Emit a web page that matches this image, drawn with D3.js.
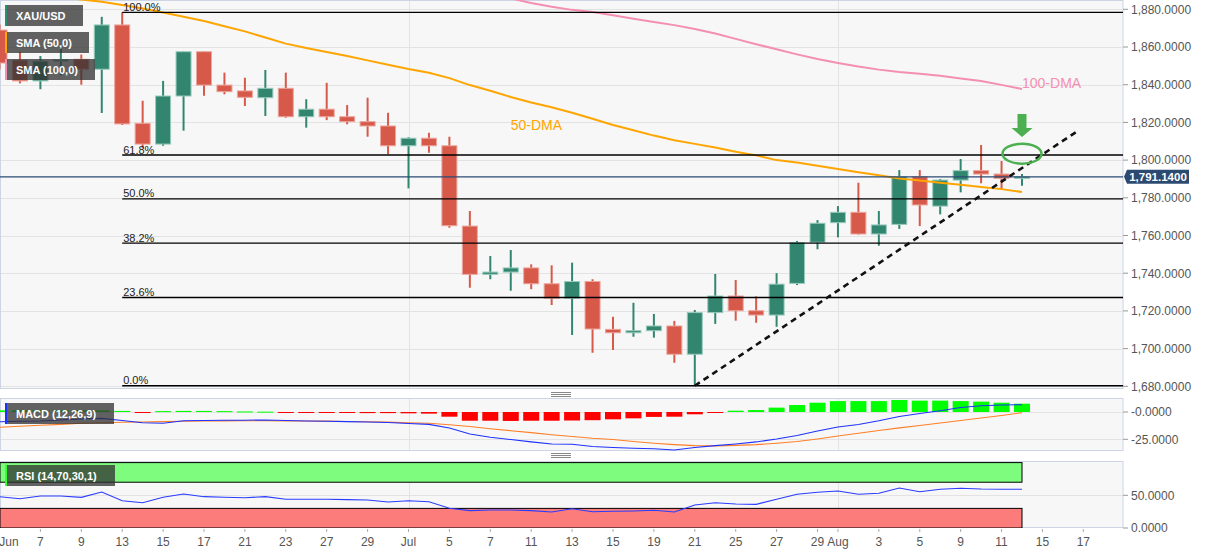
<!DOCTYPE html>
<html><head><meta charset="utf-8">
<script src="https://cdn.jsdelivr.net/npm/d3@7"></script>
<style>
body{margin:0;background:#fff;}
svg{display:block;font-family:Arial,"Liberation Sans",sans-serif;}
</style></head>
<body><svg id="c" width="1207" height="555"></svg>
<script>
// ---------- DATA ----------
const axisDates = [
 "2022-06-01","2022-06-02","2022-06-03",
 "2022-06-06","2022-06-07","2022-06-08","2022-06-09","2022-06-10",
 "2022-06-13","2022-06-14","2022-06-15","2022-06-16","2022-06-17",
 "2022-06-20","2022-06-21","2022-06-22","2022-06-23","2022-06-24",
 "2022-06-27","2022-06-28","2022-06-29","2022-06-30","2022-07-01",
 "2022-07-04","2022-07-05","2022-07-06","2022-07-07","2022-07-08",
 "2022-07-11","2022-07-12","2022-07-13","2022-07-14","2022-07-15",
 "2022-07-18","2022-07-19","2022-07-20","2022-07-21","2022-07-22",
 "2022-07-25","2022-07-26","2022-07-27","2022-07-28","2022-07-29",
 "2022-08-01","2022-08-02","2022-08-03","2022-08-04","2022-08-05",
 "2022-08-08","2022-08-09","2022-08-10","2022-08-11","2022-08-12",
 "2022-08-15","2022-08-16","2022-08-17"];
const candleDates = axisDates.slice(2, 53); // Jun 3 .. Aug 12

const open  = [1869,1853,1842,1852.5,1853.5,1848.2,1871.7,1819.5,1808.5,1834,1857.5,1839.8,1836.7,1833.1,1838.1,1823,1827,1823,1820.4,1818.1,1807.6,1811.6,1807.6,1765,1739.4,1740.6,1742.8,1734.4,1726.7,1735.6,1710.2,1708.4,1709.5,1712,1697,1719.1,1727.9,1720.1,1717.8,1734.6,1756.4,1766.8,1772.3,1760.8,1765.9,1791.2,1775.6,1789.4,1794.4,1792.6,1790.3];
const high  = [1872,1857.5,1855.2,1859.3,1856,1876,1878.4,1831.5,1842,1857.7,1857.7,1846.4,1843.7,1847.8,1846.4,1832.3,1841,1829.2,1833.1,1825.1,1812.1,1814.5,1812.4,1773,1749.1,1752.3,1744.7,1744.2,1745.6,1736.8,1716.9,1724.3,1718.4,1714.7,1720.5,1739.6,1736.4,1727.7,1740,1757.1,1768.2,1775.6,1788,1773,1794.7,1794.7,1790,1800.6,1808,1799.5,1792.6];
const low   = [1848,1840.7,1837.6,1845,1840,1825,1818.6,1806.3,1807.6,1815.6,1834.2,1834.9,1828.7,1823.4,1822.5,1817.2,1821.2,1819,1812.4,1803.2,1785,1803.9,1764.1,1732.3,1736.8,1730.7,1731.5,1723.1,1707.2,1697.8,1699.3,1706.3,1705.8,1692.5,1680.3,1713.1,1714.8,1713.7,1711.6,1733.7,1752.7,1759,1760.5,1754.6,1763.5,1765,1771.2,1782.9,1787.7,1784.5,1786.4];
const close = [1851.5,1842,1852.5,1853.3,1848.2,1871.7,1819.2,1808.5,1834,1857.5,1839.8,1836.3,1833.3,1838.1,1823,1827,1823,1820.4,1818.1,1807.6,1811.6,1807.6,1765.2,1739.4,1740.6,1742.8,1734.4,1726.7,1735.6,1710.4,1708.4,1709.5,1712,1697,1719.1,1727.9,1720.1,1717.8,1734.2,1756.2,1766.5,1772.3,1760.8,1765.6,1791.2,1776.2,1789.4,1794.4,1792.6,1790.3,1791.14];

const sma50  = [1890,1889,1887.5,1886.3,1885.2,1884,1882.3,1880.4,1878.3,1876,1873.8,1871,1868.3,1865,1861.8,1859.5,1857.3,1855.2,1852.9,1850.6,1848.3,1846.3,1843.5,1839.8,1836.8,1833.5,1830.6,1828,1825.1,1821.9,1818.6,1815.8,1813,1810.5,1808.6,1806.7,1804.4,1802.5,1800,1798.7,1797,1795.3,1793.6,1792,1790.3,1789.2,1788,1786.9,1785.7,1784.6,1783.1];
const sma100 = [null,null,null,null,null,null,null,null,null,null,null,null,null,null,null,null,null,null,null,null,null,null,null,1890,1887.5,1885.8,1883.3,1881.3,1879.7,1878.6,1876.8,1875,1873.3,1871.6,1869.5,1867.2,1864.3,1861.5,1858.8,1856.1,1853.6,1851.5,1849.6,1848,1846.7,1845.8,1844.7,1843.3,1842,1839.9,1837.7];

const macdLine = [-8.9,-8.5,-8.2,-7.3,-6.4,-5.8,-7.8,-9.8,-10.3,-8,-7.8,-7.6,-7.5,-7.3,-7.8,-8.2,-8.5,-8.8,-9.1,-9.6,-10.5,-11.3,-14.6,-20.1,-23.1,-25.2,-27.4,-29.3,-29.6,-31.6,-32.5,-33.2,-33.7,-34.8,-32.5,-30.8,-29.3,-27.4,-24.7,-21.5,-17.4,-13.7,-11.4,-8,-4.1,-1.4,1.2,4.1,5.7,6.4,6.7];
const signalLine = [-14,-13.1,-12.2,-11.3,-10.3,-9.9,-9.4,-9.1,-8.8,-8.5,-8.2,-8.1,-8,-8,-8.1,-8.2,-8.4,-8.7,-8.9,-9.3,-9.8,-10.3,-11.7,-13.3,-15.3,-17.1,-18.9,-20.8,-22.4,-24.1,-25.2,-27,-28.6,-29.9,-30.8,-31,-30.6,-29.9,-28.6,-27,-24.7,-22,-19.5,-16.9,-14.5,-12.4,-10.1,-7.8,-5.5,-3.2,-0.6];
const macdHist = [1.5,1.5,1.5,1.5,1.5,1.5,1,-0.8,0.8,1,1,0.8,0.5,0.3,-0.2,-0.4,-0.8,-0.9,-1,-1,-1.2,-1.5,-4.3,-8,-8,-8.2,-8,-8,-7.8,-7.5,-6.7,-5.8,-4.5,-4.3,-2.1,-0.3,1.2,1.8,4,6.4,8.5,10,10,10,11,10.4,10.4,10,9.5,8.5,7.6];

const rsi = [47.9,44.8,48.9,48.9,46.9,55,41.7,38.7,46.9,52,47.9,47.1,46.3,47.9,43.9,43.9,43.9,43.4,42.8,39.8,41.7,40.2,30.1,26.5,27.5,27.5,26.5,24.5,29.5,24.9,25.5,26,27.1,24.5,35.2,38.7,36.7,36.2,43.9,51.5,54.6,56.6,51.5,53.1,61.2,55.5,59.2,60.7,59.6,59.2,59.2];

const fibLevels = ["100.0%","61.8%","50.0%","38.2%","23.6%","0.0%"];
const fibValues = [1878.4,1802.7,1779.4,1756.0,1727.1,1680.3];
const fibStartDate = "2022-06-13";

const lastPrice = 1791.14;
const priceTicks = [1680,1700,1720,1740,1760,1780,1800,1820,1840,1860,1880];
const macdTicks = [0,-25], macdTickLabels = ["-0.0000","-25.0000"];
const rsiTicks = [50,0], rsiTickLabels = ["50.0000","0.0000"];
const xTickDates  = ["2022-06-01","2022-06-07","2022-06-09","2022-06-13","2022-06-15","2022-06-17","2022-06-21","2022-06-23","2022-06-27","2022-06-29","2022-07-01","2022-07-05","2022-07-07","2022-07-11","2022-07-13","2022-07-15","2022-07-19","2022-07-21","2022-07-25","2022-07-27","2022-07-29","2022-08-01","2022-08-03","2022-08-05","2022-08-09","2022-08-11","2022-08-15","2022-08-17"];
const xTickLabels = ["Jun","7","9","13","15","17","21","23","27","29","Jul","5","7","11","13","15","19","21","25","27","29","Aug","3","5","9","11","15","17"];
const monthDates = ["2022-07-01","2022-08-01"];
// trend line: [date, fraction of a day step, value]
const trendPts = [["2022-07-21",0,1680.3],["2022-08-16",0.8,1816]];
const circleMark = ["2022-08-12",1803.4];
const arrowMark = ["2022-08-12",1812.3,1824.5];
const maLabels = [["50-DMA","2022-07-08",1816.2,"#ffa500"],["100-DMA","2022-08-12",1838.5,"#f48fb1"]];

// ---------- LAYOUT ----------
const svg = d3.select("#c");
const R = 1123;
const P = {main:[0,389], macd:[398,451], rsi:[461,528]};
const x = d3.scalePoint().domain(axisDates).range([-41.4, 1083.35]);
const step = x.step();
const yP = d3.scaleLinear().domain([1680,1880]).range([386.3,9.3]);
const yM = d3.scaleLinear().domain([-25,0]).range([439.3,412]);
const yR = d3.scaleLinear().domain([0,100]).range([528,462.6]);
const fmt = d3.format(",.4f");

const defs = svg.append("defs");
function clip(id, p){ defs.append("clipPath").attr("id",id).append("rect").attr("x",0).attr("y",p[0]).attr("width",R).attr("height",p[1]-p[0]); }
clip("cm",P.main); clip("cd",P.macd); clip("cr",P.rsi);

// panel backgrounds
Object.values(P).forEach(p=>{
  svg.append("rect").attr("x",0.5).attr("y",p[0]+0.5).attr("width",R-0.5).attr("height",p[1]-p[0]-1)
    .attr("fill","#f7f7f7").attr("stroke","#cdd4e4").attr("stroke-width",1);
});

// grids
const grid = svg.append("g").attr("stroke","#e3e3e3").attr("stroke-width",1);
priceTicks.forEach(v=>grid.append("line").attr("x1",1).attr("x2",R).attr("y1",Math.round(yP(v))+0.5).attr("y2",Math.round(yP(v))+0.5));
macdTicks.forEach(v=>grid.append("line").attr("x1",1).attr("x2",R).attr("y1",Math.round(yM(v))+0.5).attr("y2",Math.round(yM(v))+0.5));
grid.append("line").attr("x1",1).attr("x2",R).attr("y1",Math.round(yR(50))+0.5).attr("y2",Math.round(yR(50))+0.5);
monthDates.forEach(d=>{
  Object.values(P).forEach(p=>grid.append("line").attr("x1",Math.round(x(d))+0.5).attr("x2",Math.round(x(d))+0.5).attr("y1",p[0]+1).attr("y2",p[1]-1));
});

// ---------- MAIN PANEL ----------
const gm = svg.append("g").attr("clip-path","url(#cm)");
const candles = candleDates.map((d,i)=>({d,o:open[i],h:high[i],l:low[i],c:close[i]}));
const RED="#d6594a", REDB="#eca59c", GRN="#328670", GRNB="#99cbbd";
const cg = gm.append("g");
candles.forEach(k=>{
  const up = k.c>=k.o, col = up?GRN:RED, bcol = up?GRNB:REDB;
  const cx = x(k.d);
  cg.append("line").attr("x1",cx).attr("x2",cx).attr("y1",yP(k.h)).attr("y2",yP(k.l)).attr("stroke",col).attr("stroke-width",2);
  const y1 = yP(Math.max(k.o,k.c)), y2 = yP(Math.min(k.o,k.c));
  cg.append("rect").attr("x",cx-7.5).attr("width",15).attr("y",y1).attr("height",Math.max(1.5,y2-y1))
    .attr("fill",col).attr("stroke",bcol).attr("stroke-width",1);
});

// moving averages
const lineGen = arr => d3.line().defined((v)=>v!=null).x((v,i)=>x(candleDates[i])).y(v=>yP(v))(arr);
gm.append("path").attr("d",lineGen(sma50)).attr("fill","none").attr("stroke","#ffa500").attr("stroke-width",2);
gm.append("path").attr("d",lineGen(sma100)).attr("fill","none").attr("stroke","#f48fb1").attr("stroke-width",2);

// fib lines
fibValues.forEach((v,i)=>{
  const yy = yP(v);
  gm.append("line").attr("x1",x(fibStartDate)).attr("x2",R).attr("y1",yy).attr("y2",yy).attr("stroke","#000").attr("stroke-width",1.3);
  gm.append("text").attr("x",x(fibStartDate)+1).attr("y",yy-1.5).attr("font-size",11).attr("fill","#222").text(fibLevels[i]);
});

// last price line
gm.append("line").attr("x1",0).attr("x2",R).attr("y1",yP(lastPrice)).attr("y2",yP(lastPrice)).attr("stroke","#2b4a72").attr("stroke-width",1.2);

// trend line
gm.append("line")
  .attr("x1",x(trendPts[0][0])+trendPts[0][1]*step).attr("y1",yP(trendPts[0][2]))
  .attr("x2",x(trendPts[1][0])+trendPts[1][1]*step).attr("y2",yP(trendPts[1][2]))
  .attr("stroke","#111").attr("stroke-width",2.6).attr("stroke-dasharray","6,4.5");

// ellipse & arrow
gm.append("ellipse").attr("cx",x(circleMark[0])).attr("cy",yP(circleMark[1])).attr("rx",19.5).attr("ry",10)
  .attr("fill","none").attr("stroke","#4caf50").attr("stroke-width",2.5);
{
  const ax = x(arrowMark[0]), tip = yP(arrowMark[1]), top = yP(arrowMark[2]);
  const hh = 9;
  gm.append("path").attr("d",`M${ax-4.5},${top}L${ax+4.5},${top}L${ax+4.5},${tip-hh}L${ax+10.5},${tip-hh}L${ax},${tip}L${ax-10.5},${tip-hh}L${ax-4.5},${tip-hh}Z`)
    .attr("fill","#4caf50");
}

// MA labels
maLabels.forEach(m=>{
  gm.append("text").attr("x",x(m[1])).attr("y",yP(m[2])).attr("font-size",14).attr("fill",m[3]).text(m[0]);
});

// ---------- MACD PANEL ----------
const gd = svg.append("g").attr("clip-path","url(#cd)");
macdHist.forEach((v,i)=>{
  const cx = x(candleDates[i]);
  const y0 = yM(0), yv = yM(v);
  gd.append("rect").attr("x",cx-8).attr("width",16).attr("y",Math.min(y0,yv)).attr("height",Math.max(1,Math.abs(yv-y0)))
    .attr("fill", v>=0?"#00ff00":"#ff0000");
});
const lineM = arr => d3.line().x((v,i)=>x(candleDates[i])).y(v=>yM(v))(arr);
gd.append("path").attr("d",lineM(signalLine)).attr("fill","none").attr("stroke","#ff7f27").attr("stroke-width",1.1);
gd.append("path").attr("d",lineM(macdLine)).attr("fill","none").attr("stroke","#1e32ff").attr("stroke-width",1.1);

// ---------- RSI PANEL ----------
const gr = svg.append("g").attr("clip-path","url(#cr)");
const xEnd = x(candleDates[candleDates.length-1]);
gr.append("rect").attr("x",0).attr("y",yR(100)).attr("width",xEnd).attr("height",yR(70)-yR(100))
  .attr("fill","#7dfc7d").attr("stroke","#000").attr("stroke-width",1);
gr.append("rect").attr("x",0).attr("y",yR(30)).attr("width",xEnd).attr("height",yR(0)-yR(30))
  .attr("fill","#fc7c7c").attr("stroke","#000").attr("stroke-width",1);
gr.append("path").attr("d",d3.line().x((v,i)=>x(candleDates[i])).y(v=>yR(v))(rsi))
  .attr("fill","none").attr("stroke","#2a3cff").attr("stroke-width",1.1);

// ---------- AXES ----------
const ax = svg.append("g").attr("font-size",12).attr("fill","#555");
function yTicks(vals, labels, sc){
  vals.forEach((v,i)=>{
    const yy = sc(v);
    ax.append("line").attr("x1",R).attr("x2",R+5).attr("y1",yy).attr("y2",yy).attr("stroke","#999");
    ax.append("text").attr("x",R+8).attr("y",yy+4.3).text(labels[i]);
  });
}
yTicks(priceTicks, priceTicks.map(fmt), yP);
yTicks(macdTicks, macdTickLabels, yM);
yTicks(rsiTicks, rsiTickLabels, yR);

xTickDates.forEach((d,i)=>{
  const xx = x(d);
  if (xx>0) ax.append("line").attr("x1",xx).attr("x2",xx).attr("y1",529).attr("y2",532).attr("stroke","#aaa");
  ax.append("text").attr("x",Math.max(xx,9)).attr("y",546).attr("text-anchor","middle").text(xTickLabels[i]);
});

// last price tag
{
  const yy = yP(lastPrice);
  svg.append("path").attr("d",`M${R+1},${yy}L${R+4},${yy-7}L${R+66},${yy-7}L${R+66},${yy+7}L${R+4},${yy+7}Z`).attr("fill","#2b4a72");
  svg.append("text").attr("x",R+35).attr("y",yy+4.3).attr("text-anchor","middle").attr("font-size",11.5)
    .attr("font-weight","bold").attr("fill","#fff").text(fmt(lastPrice));
}

// separators
[392,453].forEach(y0=>{
  [0,2,4].forEach(o=>svg.append("line").attr("x1",551).attr("x2",571).attr("y1",y0+o+0.5).attr("y2",y0+o+0.5).attr("stroke","#888").attr("stroke-width",1));
});

// ---------- LEGENDS ----------
const legends = [
  ["XAU/USD", 5, 78, "#2e8b70"],
  ["SMA (50,0)", 32, 84, "#ffa500"],
  ["SMA (100,0)", 59, 90, "#f48fb1"],
  ["MACD (12,26,9)", 403, 109, "#1e32ff"],
  ["RSI (14,70,30,1)", 465, 110, "#33ff33"]
];
legends.forEach(l=>{
  const g = svg.append("g");
  g.append("rect").attr("x",5).attr("y",l[1]).attr("width",l[2]).attr("height",21).attr("fill","rgba(50,50,50,0.76)");
  g.append("rect").attr("x",5).attr("y",l[1]).attr("width",2).attr("height",21).attr("fill",l[3]);
  g.append("text").attr("x",16).attr("y",l[1]+15).attr("font-size",11).attr("font-weight","bold").attr("fill","#fff").text(l[0]);
});
</script>
</body></html>
